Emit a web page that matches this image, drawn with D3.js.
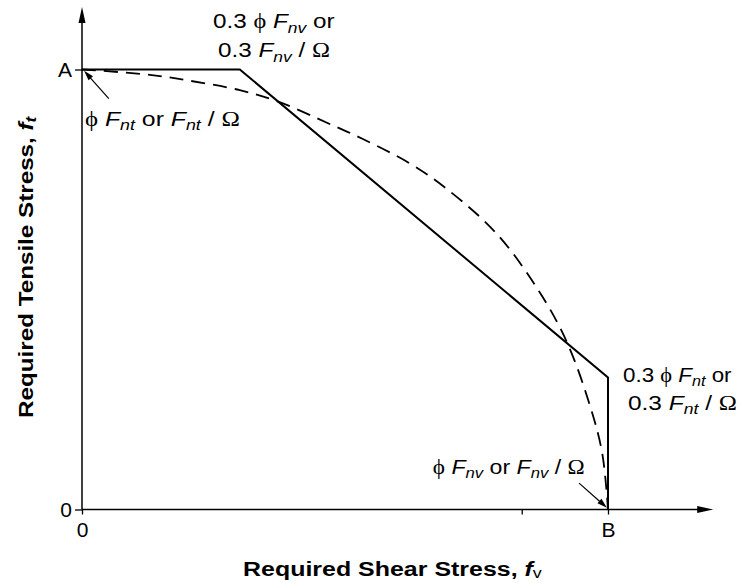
<!DOCTYPE html>
<html>
<head>
<meta charset="utf-8">
<script src="https://cdn.jsdelivr.net/npm/d3@7"></script>
<style>
  html, body { margin: 0; padding: 0; background: #fff; }
  svg { display: block; }
  text { font-family: "Liberation Sans", Arial, Helvetica, sans-serif; fill: #000; }
</style>
</head>
<body>
<svg id="chart" width="743" height="583"></svg>
<script>
// ---- data (fractions of Fnv on x, of Fnt on y) ----
const solidX = [0, 0.3, 1, 1];
const solidY = [1, 1, 0.3, 0];
const ellipseX = [0, 0.129, 0.202, 0.300, 0.373, 0.475, 0.534, 0.624, 0.694, 0.789, 0.871, 0.922, 0.966, 0.989, 1];
const ellipseY = [1, 0.988, 0.975, 0.953, 0.927, 0.874, 0.842, 0.786, 0.728, 0.626, 0.492, 0.380, 0.235, 0.128, 0];
const xTickValues = [0, 0.836, 1];
const xTickLabels = ["0", "", "B"];
const yTickValues = [0, 1];
const yTickLabels = ["0", "A"];
const xTitle = "Required Shear Stress, ";
const yTitle = "Required Tensile Stress, ";

// ---- layout ----
const svg = d3.select("#chart");
const x = d3.scaleLinear().domain([0, 1]).range([82, 608]);
const y = d3.scaleLinear().domain([0, 1]).range([509.5, 69.5]);
const xMaxAxis = 1.2, yMaxAxis = 1.142;

// axes lines with arrowheads
svg.append("line").attr("x1", x(0)).attr("y1", y(0)).attr("x2", x(xMaxAxis) - 10).attr("y2", y(0))
  .attr("stroke", "#000").attr("stroke-width", 1.5);
svg.append("line").attr("x1", x(0)).attr("y1", y(0)).attr("x2", x(0)).attr("y2", y(yMaxAxis) + 10)
  .attr("stroke", "#000").attr("stroke-width", 1.5);
function arrowHead(tipX, tipY, angle, len, half) {
  const c = Math.cos(angle), s = Math.sin(angle);
  const bx = tipX - len * c, by = tipY - len * s;
  const p = [[tipX, tipY], [bx - half * s, by + half * c], [bx + half * s, by - half * c]];
  svg.append("path").attr("d", "M" + p.map(d => d.join(",")).join("L") + "Z").attr("fill", "#000");
}
arrowHead(x(xMaxAxis), y(0), 0, 16, 3.5);
arrowHead(x(0), y(yMaxAxis), -Math.PI / 2, 16, 3.5);

// axes ticks via d3 axes
const fs = 21;
const xAxis = d3.axisBottom(x).tickValues(xTickValues).tickSize(5).tickPadding(8)
  .tickFormat((d, i) => xTickLabels[i]);
const gx = svg.append("g").attr("transform", `translate(0,${y(0)})`).call(xAxis);
gx.select(".domain").remove();
gx.selectAll(".tick line").attr("stroke", "#000").attr("stroke-width", 1.3);
gx.selectAll(".tick text").attr("font-size", fs).attr("font-family", "Liberation Sans, Arial, sans-serif").attr("fill", "#000");

const yAxis = d3.axisLeft(y).tickValues(yTickValues).tickSize(7).tickPadding(3)
  .tickFormat((d, i) => yTickLabels[i]);
const gy = svg.append("g").attr("transform", `translate(${x(0)},0)`).call(yAxis);
gy.select(".domain").remove();
gy.selectAll(".tick line").attr("stroke", "#000").attr("stroke-width", 1.3);
gy.selectAll(".tick text").attr("font-size", fs).attr("font-family", "Liberation Sans, Arial, sans-serif").attr("fill", "#000");

// interaction curves
const solid = solidX.map((v, i) => [v, solidY[i]]);
const ell = ellipseX.map((v, i) => [v, ellipseY[i]]);
svg.append("path").attr("d", d3.line().x(d => x(d[0])).y(d => y(d[1])).curve(d3.curveCatmullRom.alpha(0.5))(ell))
  .attr("fill", "none").attr("stroke", "#000").attr("stroke-width", 1.8)
  .attr("stroke-dasharray", "14,8");
svg.append("path").attr("d", d3.line().x(d => x(d[0])).y(d => y(d[1]))(solid))
  .attr("fill", "none").attr("stroke", "#000").attr("stroke-width", 2);

// pointer arrows
const pointers = [
  { from: [0.051, 0.934], to: [0.004, 0.997] },
  { from: [0.945, 0.060], to: [0.998, 0.004] }
];
pointers.forEach(p => {
  const x1 = x(p.from[0]), y1 = y(p.from[1]), x2 = x(p.to[0]), y2 = y(p.to[1]);
  const ang = Math.atan2(y2 - y1, x2 - x1);
  svg.append("line").attr("x1", x1).attr("y1", y1)
    .attr("x2", x2 - 8 * Math.cos(ang)).attr("y2", y2 - 8 * Math.sin(ang))
    .attr("stroke", "#000").attr("stroke-width", 1.2);
  arrowHead(x2, y2, ang, 10, 3);
});

// rich labels
const PHI = "\u03D5", OM = "\u03A9";
function addRich(g, parts, size, bold) {
  const t = g.append("text").attr("x", 0).attr("y", 0).attr("font-size", size)
    .attr("font-weight", bold ? "bold" : "normal");
  let cur = 0;
  parts.forEach(p => {
    const target = p.sub ? size * (p.subShift || 0.22) : 0;
    const ts = t.append("tspan").text(p.t).attr("dy", target - cur);
    cur = target;
    if (p.sub) ts.attr("font-size", size * 0.72);
    if (p.it) ts.attr("font-style", "italic");
    if (p.serif) ts.attr("font-family", "Liberation Serif, DejaVu Serif, serif");
    if (p.nb) ts.attr("font-weight", "normal");
  });
  return t;
}
function fitText(t, w) {
  const bb = t.node().getBBox();
  t.attr("transform", `scale(${w / bb.width},1) translate(${-bb.x},0)`);
}
const sp = (s) => ({ t: s });
const labels = [
  { parts: [sp("0.3 "), { t: PHI, serif: true }, sp(" "), { t: "F", it: true }, { t: "nv", it: true, sub: true }, sp(" or")], x: 0.249, y: 1.094, w: 122 },
  { parts: [sp("0.3 "), { t: "F", it: true }, { t: "nv", it: true, sub: true }, sp(" / "), { t: OM, serif: true }], x: 0.2586, y: 1.028, w: 112 },
  { parts: [{ t: PHI, serif: true }, sp(" "), { t: "F", it: true }, { t: "nt", it: true, sub: true }, sp(" or "), { t: "F", it: true }, { t: "nt", it: true, sub: true }, sp(" / "), { t: OM, serif: true }], x: 0.0057, y: 0.8716, w: 155 },
  { parts: [sp("0.3 "), { t: PHI, serif: true }, sp(" "), { t: "F", it: true }, { t: "nt", it: true, sub: true }, sp(" or")], x: 1.0285, y: 0.2898, w: 109 },
  { parts: [sp("0.3 "), { t: "F", it: true }, { t: "nt", it: true, sub: true }, sp(" / "), { t: OM, serif: true }], x: 1.038, y: 0.226, w: 109 },
  { parts: [{ t: PHI, serif: true }, sp(" "), { t: "F", it: true }, { t: "nv", it: true, sub: true }, sp(" or "), { t: "F", it: true }, { t: "nv", it: true, sub: true }, sp(" / "), { t: OM, serif: true }], x: 0.667, y: 0.0807, w: 152 }
];
labels.forEach(l => {
  const g = svg.append("g").attr("transform", `translate(${x(l.x)},${y(l.y)})`);
  const t = addRich(g, l.parts, 20, false);
  fitText(t, l.w);
});

// axis titles
const gxT = svg.append("g").attr("transform", `translate(243,576)`);
fitText(addRich(gxT, [sp(xTitle), { t: "f", it: true }, { t: "v", sub: true, nb: true, subShift: 0.1 }], 20, true), 300);
const gyT = svg.append("g").attr("transform", `translate(33,418) rotate(-90)`);
fitText(addRich(gyT, [sp(yTitle), { t: "f", it: true }, { t: "t", it: true, sub: true, subShift: 0.15 }], 20, true), 303);
</script>
</body>
</html>
